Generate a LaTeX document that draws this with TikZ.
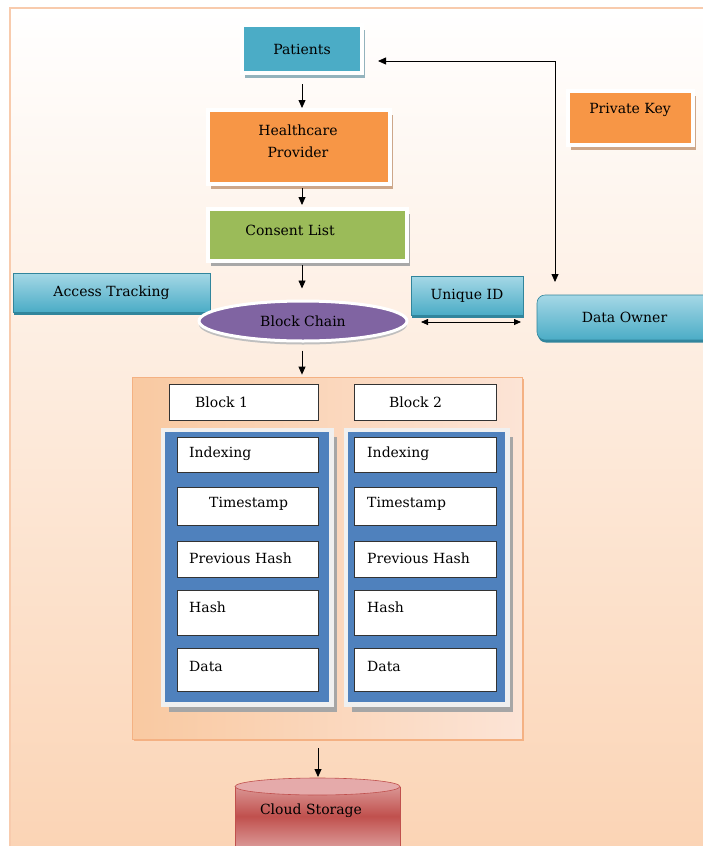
\documentclass[tikz,border=0pt]{standalone}
\usepackage{fontspec}
\setmainfont{DejaVu Serif}
\usetikzlibrary{arrows.meta,shadows,shapes.geometric}
\definecolor{cTeal}{HTML}{4BACC6}
\definecolor{cTealL}{HTML}{A5D8E6}
\definecolor{cTealD}{HTML}{31859C}
\definecolor{cOrange}{HTML}{F79646}
\definecolor{cGreen}{HTML}{9BBB59}
\definecolor{cPurple}{HTML}{8064A2}
\definecolor{cBlue}{HTML}{4F81BD}
\definecolor{cRed}{HTML}{C0504D}
\definecolor{cRedL}{HTML}{DA9694}
\definecolor{cRedT}{HTML}{E5AAAA}
\definecolor{cFrame}{HTML}{F8CBAD}
\definecolor{cBgBot}{HTML}{FBD4B5}
\definecolor{cContL}{HTML}{F9C9A1}
\definecolor{cContR}{HTML}{FCE4D6}
\definecolor{cContB}{HTML}{F4B183}
\definecolor{shTeal}{HTML}{93B3BD}
\definecolor{shOr}{HTML}{CDA78A}
\definecolor{shGr}{HTML}{A8A8A8}
\begin{document}
\begin{tikzpicture}[x=1pt,y=-1pt,
  font=\fontsize{14}{16}\selectfont,
  every node/.style={inner sep=0pt},
  arr/.style={-{Triangle[length=8pt,width=7pt]}, line width=0.8pt, black},
  dblarr/.style={{Triangle[length=7pt,width=6pt]}-{Triangle[length=7pt,width=6pt]}, line width=0.8pt, black},
  halo/.style={rectangle, draw=white, line width=4pt,
    drop shadow={shadow xshift=3pt, shadow yshift=-4.5pt, fill=#1, opacity=1}},
  tealbox/.style={rectangle, top color=cTealL, bottom color=cTeal, draw=cTealD, line width=0.6pt,
    drop shadow={shadow xshift=1pt, shadow yshift=-2.5pt, fill=cTealD, opacity=1}},
  wbox/.style={rectangle, fill=white, draw=black!80, line width=0.8pt},
  panel/.style={rectangle, fill=cBlue, draw=white!94!black, line width=4.5pt,
    drop shadow={shadow xshift=6pt, shadow yshift=-7.5pt, fill=black!35, opacity=1}}
]
\useasboundingbox (0,0) rectangle (702,846);
% background
\fill[white] (0,0) rectangle (702,846);
\shade[top color=white, bottom color=cBgBot] (10,8) rectangle (712,850);
\draw[cFrame, line width=1.5pt] (712,8) -- (10,8) -- (10,850);

% top chain
\node[halo=shTeal, fill=cTeal, minimum width=120pt, minimum height=48pt] (pat) at (302,49) {Patients};
\node[halo=shOr, fill=cOrange, minimum width=182pt, minimum height=74pt] (hp) at (299,147) {};
\node[align=center, font=\fontsize{14}{22}\selectfont] (hpT) at (298,141) {Healthcare\\Provider};
\node[halo=shGr, fill=cGreen, minimum width=199pt, minimum height=52pt] (cons) at (307.5,235) {};
\node (consT) at (290,230) {Consent List};
\node[halo=shOr, fill=cOrange, minimum width=125pt, minimum height=54pt] (pk) at (630.5,118) {};
\node (pkT) at (630,110) {Private Key};

\node[tealbox, minimum width=197pt, minimum height=39pt] (acc) at (111.5,292.5) {Access Tracking};
\node[tealbox, minimum width=112pt, minimum height=39pt] (uid) at (467,295.5) {Unique ID};
\node[tealbox, rounded corners=8pt, minimum width=175pt, minimum height=45pt] (own) at (624.5,317.5) {Data Owner};
\node[ellipse, fill=cPurple, draw=white, line width=3pt, minimum width=208pt, minimum height=40pt,
  drop shadow={shadow xshift=0pt, shadow yshift=-3.5pt, fill=black!25, opacity=1}] (bc) at (303,321) {Block Chain};

% container
\node[rectangle, draw=cContB, line width=0.8pt, left color=cContL, right color=cContR,
  minimum width=390pt, minimum height=362pt,
  drop shadow={shadow xshift=2pt, shadow yshift=-2pt, fill=cContB, opacity=1}] (cont) at (327,558) {};

\node[wbox, minimum width=149pt, minimum height=36pt] (b1) at (243.5,402) {};
\node[anchor=west] (b1T) at (195,402) {Block 1};
\node[wbox, minimum width=142pt, minimum height=36pt] (b2) at (425,402) {};
\node[anchor=west] (b2T) at (389,402) {Block 2};

\node[panel, minimum width=168.5pt, minimum height=274.5pt] (p1) at (247,567) {};
\node[panel, minimum width=161.5pt, minimum height=274.5pt] (p2) at (426.5,567) {};

\foreach \n/\y/\h/\ty/\lx/\t in {idx/454.5/35/454/189/Indexing, ts/506/38/504/209/Timestamp,
    ph/559/36/558/189/Previous Hash, hs/612.5/45/607/189/Hash, dt/669.5/43/666/189/Data}{
  \node[wbox, minimum width=141pt, minimum height=\h] (L\n) at (247.5,\y) {};
  \node[anchor=west] (Lt\n) at (\lx,\ty) {\t};
  \node[wbox, minimum width=142pt, minimum height=\h] (R\n) at (425,\y) {};
  \node[anchor=west] (Rt\n) at (367,\ty) {\t};
}

% cloud storage cylinder
\shade[top color=cRedL, bottom color=cRedL, middle color=cRed] (235,786.5) rectangle (400,846);
\draw[cRed, line width=0.6pt] (235,786.5) -- (235,846) (400,786.5) -- (400,846);
\draw[fill=cRedT, draw=cRed, line width=0.6pt] (317.5,786.5) ellipse [x radius=82.5, y radius=8.5];
\node (cloud) at (311,811) {Cloud Storage};
\coordinate (cloudTop) at (318,777);

% connectors
\draw[arr, shorten <=9pt] (pat.south) -- (pat.south |- hp.north);
\draw[arr, shorten <=2pt, shorten >=2pt] (hp.south -| pat.south) -- (pat.south |- cons.north);
\draw[arr, shorten <=2pt, shorten >=11pt] (cons.south -| pat.south) -- (pat.south |- bc.north);
\draw[arr, shorten <=8pt, shorten >=2pt] (bc.south -| pat.south) -- (pat.south |- cont.north);
\draw[arr, shorten <=9pt] (cont.south -| cloudTop) -- (cloudTop);

\coordinate (corner) at (555,61);
\coordinate (patIn) at (378,61);
\coordinate (ownIn) at (555,282);
\draw[arr] (corner) -- (patIn);
\draw[arr] (corner) -- (ownIn);
\coordinate (uL) at (421,322);
\coordinate (uR) at (521,322);
\draw[dblarr] (uL) -- (uR);
\end{tikzpicture}
\end{document}
